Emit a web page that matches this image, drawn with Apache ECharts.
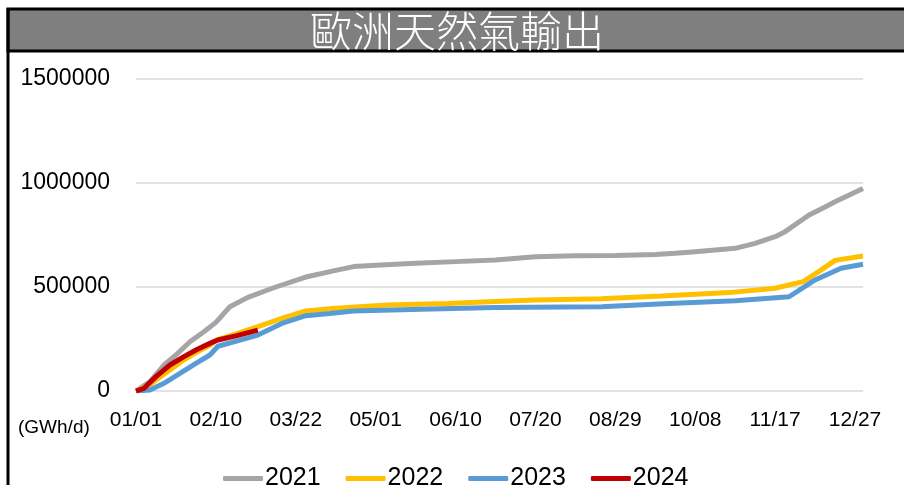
<!DOCTYPE html>
<html>
<head>
<meta charset="utf-8">
<script src="https://cdn.jsdelivr.net/npm/echarts@6/dist/echarts.min.js"></script>
<style>
  html, body { margin: 0; padding: 0; background: #fff; }
  #main { width: 904px; height: 485px; }
</style>
</head>
<body>
<div id="main"></div>
<script>
// x tick labels, one every 40 days (day 0 = 01/01)
const tickLabels = ['01/01', '02/10', '03/22', '05/01', '06/10', '07/20', '08/29', '10/08', '11/17', '12/27']
const seriesNames = ['2021', '2022', '2023', '2024']

// cumulative output (GWh/d summed), day-of-year -> value
const days2021 = [0, 7, 14, 20, 27, 34, 40, 47, 56, 70, 85, 100, 109, 120, 140, 160, 180, 200, 220, 240, 260, 270, 280, 300, 310, 320, 325, 337, 345, 350, 364]
const vals2021 = [0, 45000, 125000, 173000, 237000, 285000, 330000, 405000, 450000, 500000, 548000, 580000, 598000, 605000, 614000, 622000, 630000, 645000, 650000, 652000, 656000, 662000, 670000, 686000, 710000, 742000, 766000, 846000, 885000, 910000, 974000]

const days2022 = [0, 7, 10, 17, 24, 30, 37, 40, 47, 61, 73, 85, 100, 126, 156, 180, 200, 233, 263, 297, 320, 334, 342, 350, 364]
const vals2022 = [0, 30000, 53000, 101000, 150000, 185000, 220000, 245000, 265000, 309000, 349000, 385000, 398000, 413000, 421000, 430000, 437000, 444000, 457000, 473000, 494000, 526000, 575000, 628000, 649000]

const days2023 = [0, 7, 14, 22, 30, 37, 41, 61, 73, 85, 97, 109, 143, 180, 233, 267, 300, 327, 340, 353, 364]
const vals2023 = [0, 5000, 37000, 85000, 133000, 173000, 215000, 269000, 325000, 362000, 373000, 385000, 393000, 402000, 405000, 421000, 434000, 453000, 534000, 590000, 609000]

const days2024 = [0, 4, 10, 17, 24, 30, 37, 41, 50, 61]
const vals2024 = [0, 13000, 69000, 125000, 165000, 197000, 229000, 245000, 265000, 293000]

const colors = ['#A5A5A5', '#FFC000', '#5B9BD5', '#C00000']
const allDays = [days2021, days2022, days2023, days2024]
const allVals = [vals2021, vals2022, vals2023, vals2024]

const sans = "'Liberation Sans', Arial, sans-serif"

const myChart = echarts.init(document.getElementById('main'))
myChart.setOption({
  animation: false,
  title: {
    text: '歐洲天然氣輸出',
    left: 305,
    top: 5,
    z: 10,
    textStyle: {
      color: '#fff',
      fontSize: 42,
      fontWeight: 300,
      fontFamily: "'Noto Sans CJK TC', sans-serif"
    }
  },
  graphic: [
    { type: 'rect', z: -1, shape: { x: 8, y: 9, width: 905, height: 42 }, style: { fill: '#7F7F7F', stroke: '#000', lineWidth: 3 } },
    { type: 'line', z: -1, shape: { x1: 8, y1: 8, x2: 8, y2: 490 }, style: { stroke: '#000', lineWidth: 3 } },
    { type: 'text', left: 18, top: 418, style: { text: '(GWh/d)', fontSize: 19, fill: '#000', fontFamily: sans } }
  ],
  legend: {
    data: seriesNames,
    left: 218,
    top: 461,
    itemWidth: 40,
    itemHeight: 5,
    itemGap: 25,
    icon: 'roundRect',
    textStyle: { fontSize: 25, color: '#000', fontFamily: sans, padding: [0, 0, 0, -3] }
  },
  grid: { left: 136, right: 41, top: 79, bottom: 94, outerBoundsMode: 'none' },
  xAxis: {
    type: 'value',
    min: 0,
    max: 364,
    interval: 40,
    axisLine: { show: false },
    axisTick: { show: false },
    splitLine: { show: false },
    axisLabel: {
      margin: 19,
      fontSize: 21,
      color: '#000',
      fontFamily: sans,
      formatter: v => (v % 40 === 0 ? tickLabels[v / 40] : '')
    }
  },
  yAxis: {
    type: 'value',
    min: 0,
    max: 1500000,
    interval: 500000,
    axisLine: { show: false },
    axisTick: { show: false },
    splitLine: { lineStyle: { color: '#D9D9D9', width: 1.5 } },
    axisLabel: { margin: 26, fontSize: 23, color: '#000', fontFamily: sans, formatter: v => String(v) }
  },
  series: seriesNames.map((name, k) => ({
    name: name,
    type: 'line',
    showSymbol: false,
    color: colors[k],
    lineStyle: { width: 5, color: colors[k] },
    data: allDays[k].map((d, i) => [d, allVals[k][i]])
  }))
})
</script>
</body>
</html>
